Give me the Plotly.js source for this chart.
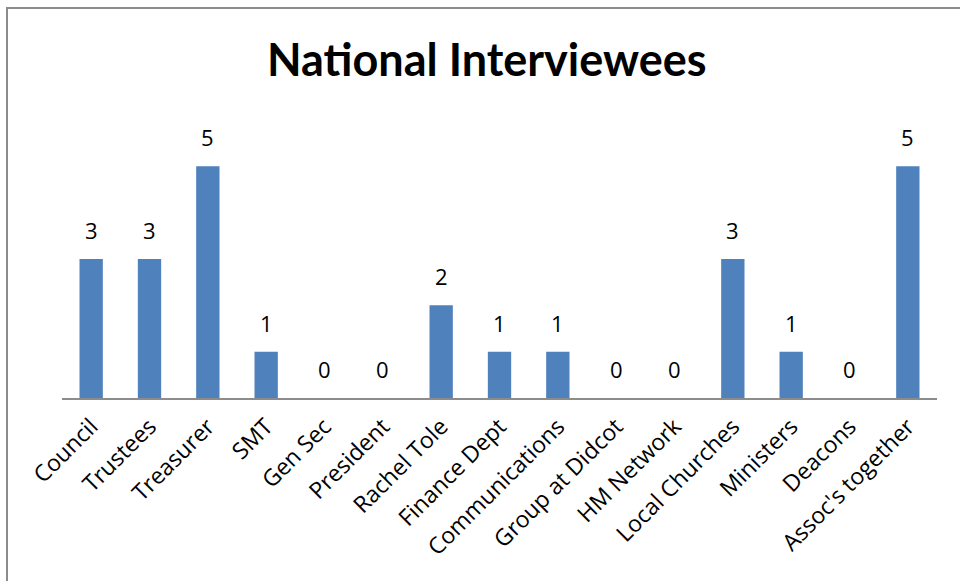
<!DOCTYPE html>
<html>
<head>
<meta charset="utf-8">
<script src="https://cdn.plot.ly/plotly-3.0.1.min.js"></script>
<style>
html,body{margin:0;padding:0;background:#fff;}
#wrap{position:relative;width:960px;height:581px;overflow:hidden;}
#chart{width:960px;height:581px;}
#frame{position:absolute;left:6px;top:7px;width:1000px;height:700px;border-top:2px solid #8c8c8c;border-left:2px solid #8c8c8c;pointer-events:none;}
</style>
</head>
<body>
<div id="wrap"><div id="chart"></div><div id="frame"></div></div>
<script>
const categories = ["Council","Trustees","Treasurer","SMT","Gen Sec","President","Rachel Tole","Finance Dept","Communications","Group at Didcot","HM Network","Local Churches","Ministers","Deacons","Assoc's together"];
const counts = [3,3,5,1,0,0,2,1,1,0,0,3,1,0,5];
const chartTitle = "National Interviewees";

const FONT = "Lato, 'Open Sans', sans-serif";
const TICKFONT = "'Open Sans', Lato, sans-serif";
const trace = {
  type: "bar",
  x: categories,
  y: counts,
  marker: {color: "#4F81BD", line: {width: 0}},
  width: 0.4,
  hoverinfo: "x+y"
};
const annotations = categories.map((c, i) => ({
  x: c, y: counts[i], xref: "x", yref: "y",
  text: String(counts[i]), showarrow: false,
  yanchor: "bottom", yshift: 12,
  font: {family: TICKFONT, size: 22, color: "#000"}
}));
const layout = {
  width: 960, height: 581,
  margin: {l: 62, r: 23, t: 120, b: 183, pad: 0},
  paper_bgcolor: "#fff", plot_bgcolor: "#fff",
  showlegend: false,
  title: {
    text: "<b>" + chartTitle + "</b>",
    xref: "container", yref: "container", x: 0.507, y: 1 - 60/581,
    xanchor: "center", yanchor: "middle",
    font: {family: FONT, size: 45, color: "#000"}
  },
  xaxis: {
    type: "category",
    range: [-0.5, categories.length - 0.5],
    tickangle: -45,
    tickfont: {family: TICKFONT, size: 23, color: "#000"},
    ticklabelstandoff: 4,
    showline: true, linecolor: "#8c8c8c", linewidth: 2,
    ticks: "", showgrid: false, zeroline: false, automargin: false
  },
  yaxis: {
    range: [0, 6], visible: false, showgrid: false, zeroline: false, fixedrange: true
  },
  annotations: annotations
};
Plotly.newPlot("chart", [trace], layout, {displayModeBar: false, staticPlot: true});
</script>
</body>
</html>
